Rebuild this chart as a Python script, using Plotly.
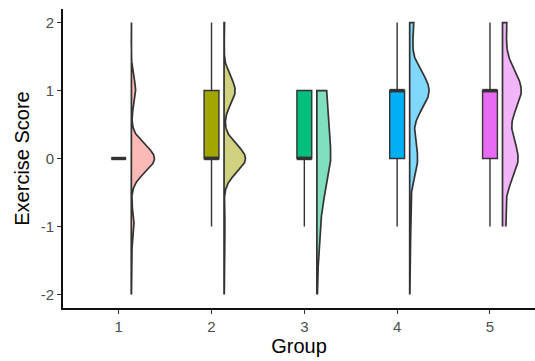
import numpy as np
import plotly.graph_objects as go

# ---- data (counts of each score per group) ----
groups = [1, 2, 3, 4, 5]
score_levels = [-2, -1, 0, 1, 2]
counts_g1 = [1, 11, 90, 17, 1]
counts_g2 = [1, 4, 83, 43, 2]
counts_g3 = [3, 22, 112, 76, 0]
counts_g4 = [1, 6, 43, 105, 22]
counts_g5 = [0, 20, 93, 112, 25]
kde_bandwidth = [0.2, 0.2, 0.45, 0.28, 0.31]
tick_labels = ["1", "2", "3", "4", "5"]
y_ticks = [-2, -1, 0, 1, 2]

all_counts = [counts_g1, counts_g2, counts_g3, counts_g4, counts_g5]
box_colors = ["#F8766D", "#A3A500", "#00BF7D", "#00B0F6", "#E76BF3"]


def blend(hexc, a=0.5):
    r, g, b = int(hexc[1:3], 16), int(hexc[3:5], 16), int(hexc[5:7], 16)
    return "rgb(%d,%d,%d)" % (round(r * a + 255 * (1 - a)), round(g * a + 255 * (1 - a)), round(b * a + 255 * (1 - a)))


violin_offset = 0.135
violin_maxwidth = 0.25
box_width = 0.16
outline = "#333333"

raw = []
dens = []
for cnt, bw in zip(all_counts, kde_bandwidth):
    vals = np.repeat(np.array(score_levels, dtype=float), cnt)
    raw.append(vals)
    grid = np.linspace(vals.min(), vals.max(), 512)
    d = np.zeros_like(grid)
    for lv, c in zip(score_levels, cnt):
        d += c * np.exp(-0.5 * ((grid - lv) / bw) ** 2) / (bw * np.sqrt(2 * np.pi))
    dens.append((grid, d))

gmax = max(d.max() for _, d in dens)
scale = violin_maxwidth / gmax

fig = go.Figure()
for i, g in enumerate(groups):
    grid, d = dens[i]
    base = g + violin_offset
    xs = np.concatenate([base + d * scale, [base, base]])
    ys = np.concatenate([grid, [grid[-1], grid[0]]])
    fig.add_trace(go.Scatter(x=xs, y=ys, mode="lines", fill="toself",
                             fillcolor=blend(box_colors[i], 0.5),
                             line=dict(color=outline, width=1.7),
                             showlegend=False, hoverinfo="skip"))
    vals = raw[i]
    q1, med, q3 = np.percentile(vals, [25, 50, 75])
    iqr = q3 - q1
    lo = vals[vals >= q1 - 1.5 * iqr].min()
    hi = vals[vals <= q3 + 1.5 * iqr].max()
    fig.add_trace(go.Box(x=[g], q1=[q1], median=[med], q3=[q3],
                         lowerfence=[lo], upperfence=[hi],
                         width=box_width, boxpoints=False, whiskerwidth=0,
                         fillcolor=box_colors[i], line=dict(color=outline, width=1.4),
                         showlegend=False, hoverinfo="skip"))
    fig.add_trace(go.Scatter(x=[g - box_width / 2, g + box_width / 2], y=[med, med],
                             mode="lines", line=dict(color=outline, width=3.4),
                             showlegend=False, hoverinfo="skip"))

fig.update_layout(
    width=535, height=361,
    margin=dict(l=63, r=0, t=9, b=53),
    paper_bgcolor="white", plot_bgcolor="white",
    font=dict(family="Liberation Sans, Arial, sans-serif", color="black"),
    showlegend=False,
)
fig.update_xaxes(range=[0.4, 5.485], tickvals=groups, ticktext=tick_labels,
                 showgrid=False, zeroline=False, showline=True, linecolor="#111111", linewidth=1.6,
                 ticks="outside", ticklen=4, tickcolor="#333333", tickwidth=1.2,
                 tickfont=dict(size=15, color="#4d4d4d"),
                 title=dict(text="Group", font=dict(size=20, color="black"), standoff=2))
fig.update_yaxes(range=[-2.2, 2.2], tickvals=y_ticks, ticktext=[str(v) for v in y_ticks],
                 showgrid=False, zeroline=False, showline=True, linecolor="#111111", linewidth=1.6,
                 ticks="outside", ticklen=4, tickcolor="#333333", tickwidth=1.2,
                 tickfont=dict(size=15, color="#4d4d4d"),
                 title=dict(text="Exercise Score", font=dict(size=20, color="black"), standoff=6))

fig.write_html("out.html")
